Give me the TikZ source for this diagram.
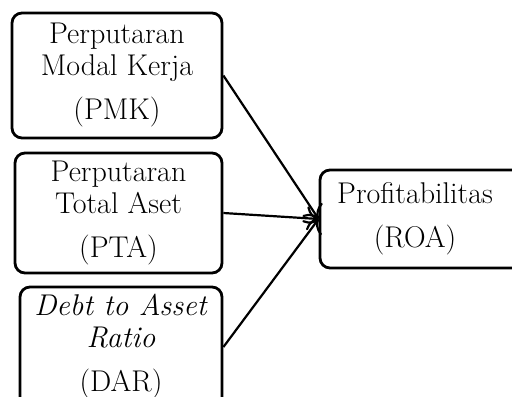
\documentclass[tikz,border=0pt]{standalone}
\usetikzlibrary{arrows.meta}

\tikzset{
  varbox/.style={draw, line width=1.4pt, rounded corners=5pt, align=center,
    inner sep=0pt, font=\fontsize{15}{16}\selectfont},
  link/.style={line width=1.1pt, -{To[length=6pt,width=12pt,line width=1.1pt]}}
}

\begin{document}
\begin{tikzpicture}[x=0.5pt,y=-0.5pt]

    % Fixing the frame
    \useasboundingbox (0,0) rectangle (512,396);

    % Independent variables
    \node[varbox, minimum width=105pt, minimum height=62.5pt] (pmk) at (117,75.5)
        {Perputaran\\Modal Kerja\\[6pt](PMK)};
    \node[varbox, minimum width=103.5pt, minimum height=60pt] (pta) at (118.5,213)
        {Perputaran\\Total Aset\\[6pt](PTA)};
    \node[varbox, minimum width=101pt, minimum height=60pt] (dar) at (121,347)
        {\textit{Debt to Asset}\\\textit{Ratio}\\[6pt](DAR)};

    % Dependent variable
    \node[varbox, minimum width=105pt, minimum height=49pt] (roa) at (425,219)
        {\hspace*{-10pt}Profitabilitas\\[6pt]\hspace*{-10pt}(ROA)};

    % Arrows
    \draw[link] (pmk.east) -- (roa.west);
    \draw[link] (pta.east) -- (roa.west);
    \draw[link] (dar.east) -- (roa.west);

\end{tikzpicture}
\end{document}
